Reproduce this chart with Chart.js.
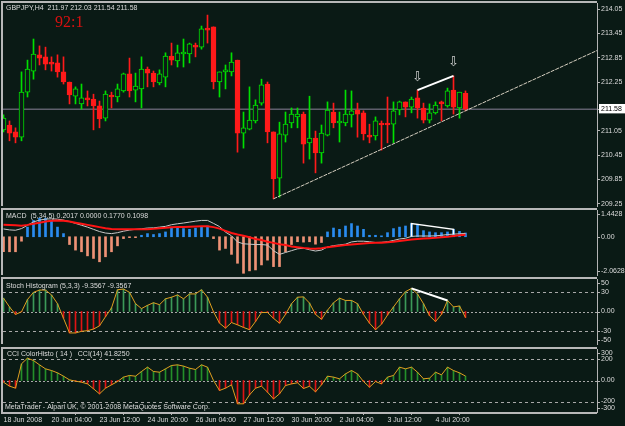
<!DOCTYPE html>
<html><head><meta charset="utf-8">
<script src="https://cdn.jsdelivr.net/npm/chart.js@4.4.1/dist/chart.umd.min.js"></script>
<style>
html,body{margin:0;padding:0;background:#0a1a15;overflow:hidden;width:625px;height:426px}
canvas{position:absolute;left:0}
</style>
</head><body>
<canvas id="cMain" width="625" height="208" style="top:0px"></canvas>
<canvas id="cMacd" width="625" height="69" style="top:208px"></canvas>
<canvas id="cStoch" width="625" height="69" style="top:277px"></canvas>
<canvas id="cCci" width="625" height="80" style="top:346px"></canvas>
<script>
// ---------- DATA ----------
const symbol = 'GBPJPY,H4';
const tickIndex  = [0, 8, 16, 24, 32, 40, 48, 56, 64, 72];
const tickLabels = ['18 Jun 2008','20 Jun 04:00','23 Jun 12:00','24 Jun 20:00','26 Jun 04:00',
                    '27 Jun 12:00','30 Jun 20:00','2 Jul 04:00','3 Jul 12:00','4 Jul 20:00'];

const open = [211.07,211.19,211.02,210.89,212.00,212.52,212.92,212.87,212.72,212.72,
              212.50,212.25,211.90,211.71,211.86,211.83,211.66,211.36,211.93,211.88,
              212.03,212.45,212.05,212.08,212.57,212.47,212.23,212.37,212.89,212.77,
              212.94,212.94,213.16,213.11,213.56,213.61,212.25,212.50,212.50,212.79,
              210.99,211.09,211.29,211.73,212.20,211.02,209.88,210.94,211.24,211.39,
              211.46,210.75,210.87,210.50,210.94,211.51,211.24,211.24,211.44,211.56,
              211.49,210.94,210.92,211.24,211.21,211.21,211.56,211.76,211.63,211.86,
              211.61,211.31,211.49,211.73,211.66,212.05,211.61,211.97];
const high = [211.44,211.29,211.12,212.50,212.79,213.31,213.14,213.11,212.87,212.92,
              212.87,212.25,212.13,212.20,212.03,211.95,211.78,212.03,212.00,212.20,
              212.47,212.84,212.47,212.87,212.62,212.52,212.55,212.97,213.21,213.16,
              213.31,213.21,213.21,213.63,213.90,213.61,212.50,212.67,212.97,212.79,
              211.51,212.13,211.81,212.32,212.25,211.02,211.26,211.51,211.61,211.61,
              211.51,211.90,211.04,211.19,211.76,211.73,211.51,212.05,212.03,211.73,
              211.54,211.21,211.39,211.29,211.88,211.76,211.78,211.76,211.88,212.05,
              211.73,211.71,211.76,211.78,212.10,212.40,212.00,212.03];
const low  = [211.02,210.80,210.75,210.80,211.88,212.32,212.67,212.55,212.52,212.37,
              212.20,211.71,211.71,211.58,211.66,211.07,211.12,211.29,211.61,211.76,
              212.00,211.88,211.76,211.61,212.13,212.13,212.18,212.13,212.67,212.62,
              212.62,212.72,212.87,213.06,213.21,212.08,211.88,212.08,212.40,210.52,
              210.62,211.07,211.24,211.68,210.75,209.37,209.41,210.77,211.12,211.12,
              210.25,210.35,210.01,210.25,210.92,211.12,210.77,211.17,211.14,210.89,
              210.82,210.75,210.82,210.57,210.75,210.75,211.44,211.39,211.49,211.36,
              211.24,211.24,211.46,211.29,211.63,211.46,211.36,211.54];
const close = [211.36,210.99,210.89,212.00,212.57,212.94,212.84,212.69,212.69,212.50,
              212.25,211.93,212.08,211.86,211.81,211.66,211.34,211.95,211.88,212.08,
              212.45,212.03,212.15,212.57,212.47,212.25,212.45,212.89,212.79,212.97,
              212.95,213.19,213.11,213.56,213.53,212.25,212.50,212.52,212.74,210.99,
              211.12,211.31,211.68,212.18,211.02,209.86,210.97,211.21,211.46,211.46,
              210.72,210.87,210.50,210.99,211.56,211.24,211.26,211.46,211.54,211.46,
              210.97,210.89,211.29,211.19,211.19,211.54,211.76,211.63,211.83,211.61,
              211.31,211.49,211.68,211.71,212.03,211.63,212.00,211.58];

const priceTicks = [209.25, 209.85, 210.45, 211.05, 212.25, 212.85, 213.45, 214.05];

const macdHist = [-0.81,-0.81,-0.81,-0.24,0.52,0.88,1.00,1.00,0.88,0.52,
                  0.17,-0.42,-0.72,-0.81,-1.03,-1.17,-1.35,-1.08,-0.81,-0.49,
                  -0.10,-0.05,-0.05,0.08,0.17,0.12,0.17,0.26,0.47,0.47,
                  0.44,0.40,0.47,0.52,0.58,-0.10,-0.72,-0.63,-0.95,-1.43,
                  -1.97,-1.84,-1.79,-1.52,-1.26,-1.61,-1.61,-0.81,-0.42,-0.27,
                  -0.29,-0.27,-0.40,-0.31,0.26,0.47,0.40,0.58,0.71,0.58,
                  0.40,0.08,0.08,0.05,0.22,0.44,0.52,0.58,0.71,0.65,
                  0.33,0.26,0.22,0.22,0.26,0.40,0.29,0.2017];
const macdMain = [0.42,0.37,0.35,0.44,0.62,0.80,0.90,0.95,0.97,0.95,
                  0.90,0.82,0.72,0.62,0.52,0.40,0.28,0.20,0.17,0.22,
                  0.30,0.36,0.40,0.43,0.47,0.48,0.52,0.56,0.65,0.70,
                  0.74,0.79,0.84,0.88,0.88,0.72,0.55,0.25,0.05,-0.28,
                  -0.38,-0.40,-0.42,-0.42,-0.45,-0.75,-0.95,-0.85,-0.75,-0.65,
                  -0.62,-0.70,-0.77,-0.72,-0.55,-0.48,-0.44,-0.40,-0.28,-0.24,
                  -0.24,-0.27,-0.31,-0.30,-0.27,-0.20,-0.12,-0.08,0.02,0.04,
                  0.04,0.04,0.05,0.08,0.12,0.14,0.16,0.1770];
const macdSignal = [0.65,0.64,0.62,0.60,0.64,0.70,0.76,0.82,0.86,0.88,
                  0.86,0.82,0.76,0.70,0.64,0.58,0.52,0.46,0.42,0.40,
                  0.40,0.40,0.40,0.40,0.41,0.43,0.46,0.48,0.51,0.52,
                  0.53,0.54,0.55,0.56,0.57,0.52,0.44,0.32,0.20,0.12,
                  0.05,-0.03,-0.12,-0.18,-0.27,-0.33,-0.40,-0.45,-0.52,-0.56,
                  -0.60,-0.63,-0.65,-0.62,-0.56,-0.52,-0.48,-0.45,-0.42,-0.39,
                  -0.36,-0.34,-0.33,-0.32,-0.30,-0.27,-0.23,-0.19,-0.15,-0.12,
                  -0.10,-0.08,-0.06,-0.03,0.00,0.04,0.08,0.1098];
const macdTicks  = [1.4428, 0, -2.0628];
const macdLabels = ['1.4428', '0.00', '-2.0628'];

const stoch = [20.5,7,-4.5,-0.5,18.5,29.5,33,33,25.5,12,
               -10.5,-33,-33,-30.5,-29.5,-27,-22,-8,5.5,33.5,
               34.5,29.5,12,4.5,9.5,13.5,10.5,19.5,22,25.5,
               19.5,27,27,33.5,22,-0.5,-18,-25.5,-17,-20.5,
               -24.5,-28,-15.5,-1.5,-1.5,-10.5,-18,-4.5,12,22,
               22.5,13,-4.5,-12,2,13.5,20.5,17,17,12,
               -4.5,-18,-28,-19.5,-5.5,7,19.5,30.5,35.5,27,
               12,-6.5,-15.5,-4.5,17,7,8.5,-9.3567];
const stochTicks  = [50, 30, 0, -30, -50];
const stochLabels = ['50', '30', '0.00', '-30', '-50'];
const stochLevels = [30, 0, -30];

const cci = [-16,-54,-73,159,213,190,149,111,95,73,
             41,6,-6,-16,-32,-79,-127,-73,-41,-10,
             32,48,41,86,127,86,79,111,143,149,
             137,117,105,149,127,0,-95,-73,-41,-222,
             -222,-137,-73,-54,-111,-175,-127,-48,-32,-22,
             -76,-55,-108,-41,41,32,16,63,95,63,
             -10,-63,-10,-32,32,48,127,111,127,79,
             16,22,79,54,127,95,73,41.825];
const cciTicks  = [300, 200, 0, -200, -300];
const cciLabels = ['300', '200', '0.00', '-200', '-300'];
const cciLevels = [200, 0, -200];

// user drawings (indices of the bars they join)
const trendAnchors = [45, 77];        // support line through these lows, extended right
const divPrice = [69, 75];            // line joining these highs
const divMacd  = [68, 75];
const divStoch = [68, 74];
const arrowMarks = [{i: 69, p: 212.37}, {i: 75, p: 212.73}];

// ---------- STYLE ----------
const BG = '#0a1a15', AXIS = '#b4b4b4', FRAME = '#b8b8b8', TXT = '#dcdcdc', LEVEL = '#a8a8a8';
const BULL = '#00e000', BEAR = '#ff1a1a';
const FONT = 'Liberation Sans';
const X_MIN = -1/12, X_MAX = X_MIN + 99;
const N = close.length;
const lastPrice = close[N - 1];
const idx = close.map((_, i) => i);

Chart.defaults.font.family = FONT;
Chart.defaults.font.size = 7;

const panels = {
  cMain: {
    texts: [
      {t: `${symbol}  ${open[N-1].toFixed(2)} ${high[N-1].toFixed(2)} ${low[N-1].toFixed(2)} ${close[N-1].toFixed(2)}`, x: 6, y: 8, font: `7px "${FONT}"`, c: TXT},
      {t: '92:1', x: 55, y: 27, font: '16px "Liberation Serif"', c: '#d81010', base: 'alphabetic'}
    ],
    arrows: arrowMarks
  },
  cMacd: {
    ticks: macdTicks, labels: macdLabels,
    texts: [{t: `MACD  (5,34,5) ${macdHist[N-1].toFixed(4)} 0.0000 ${macdMain[N-1].toFixed(4)} ${macdSignal[N-1].toFixed(4)}`, x: 6, y: 8, font: `7px "${FONT}"`, c: TXT}]
  },
  cStoch: {
    ticks: stochTicks, labels: stochLabels, levels: stochLevels,
    texts: [{t: `Stoch Histogram (5,3,3) ${stoch[N-1].toFixed(4)} ${stoch[N-1].toFixed(4)}`, x: 6, y: 9, font: `7px "${FONT}"`, c: TXT}]
  },
  cCci: {
    ticks: cciTicks, labels: cciLabels, levels: cciLevels, bottomFrame: true,
    texts: [
      {t: `CCI ColorHisto ( 14 )   CCI(14) ${cci[N-1].toFixed(4)}`, x: 7, y: 8.5, font: `7px "${FONT}"`, c: TXT},
      {t: 'MetaTrader - Alpari UK, \u00A9 2001-2008 MetaQuotes Software Corp.', x: 5, y: 61.5, font: `7px "${FONT}"`, c: TXT}
    ]
  }
};

const mtPlugin = {
  id: 'mtPanel',
  beforeDatasetsDraw(chart) {
    const cfg = panels[chart.canvas.id]; if (!cfg || !cfg.levels) return;
    const {ctx, chartArea: a} = chart; const ys = chart.scales.y;
    ctx.save();
    ctx.strokeStyle = LEVEL; ctx.lineWidth = 1;
    cfg.levels.forEach(v => {
      const py = Math.round(ys.getPixelForValue(v)) + 0.5;
      ctx.setLineDash(v === 0 ? [2, 2] : [3, 3]);
      ctx.beginPath(); ctx.moveTo(a.left, py); ctx.lineTo(a.right, py); ctx.stroke();
    });
    ctx.restore();
  },
  afterDraw(chart) {
    const cfg = panels[chart.canvas.id]; if (!cfg) return;
    const {ctx, chartArea: a} = chart; const ys = chart.scales.y, xs = chart.scales.x;
    ctx.save();
    ctx.fillStyle = FRAME;
    ctx.fillRect(1, a.top - 2, a.right - 1, 2);
    ctx.fillRect(1, a.top - 2, 2, a.bottom - a.top + 2);
    if (cfg.bottomFrame) ctx.fillRect(1, a.bottom, a.right - 1, 2);
    if (cfg.ticks) {
      ctx.font = `7px "${FONT}"`; ctx.textAlign = 'left'; ctx.textBaseline = 'middle';
      ctx.strokeStyle = AXIS; ctx.lineWidth = 1;
      cfg.ticks.forEach((v, k) => {
        let py = ys.getPixelForValue(v);
        py = Math.min(Math.max(py, a.top + 4), a.bottom - 4);
        const ry = Math.round(py) + 0.5;
        ctx.beginPath(); ctx.moveTo(a.right, ry); ctx.lineTo(a.right + 3, ry); ctx.stroke();
        ctx.fillStyle = TXT;
        ctx.fillText(cfg.labels[k], a.right + 4, py);
      });
    }
    if (cfg.arrows) {
      ctx.font = '13px "DejaVu Sans"'; ctx.textAlign = 'center'; ctx.textBaseline = 'middle';
      ctx.fillStyle = '#d0d0d0';
      cfg.arrows.forEach(m => ctx.fillText('\u21E9', xs.getPixelForValue(m.i), ys.getPixelForValue(m.p)));
    }
    (cfg.texts || []).forEach(tx => {
      ctx.font = tx.font; ctx.fillStyle = tx.c; ctx.textAlign = 'left';
      ctx.textBaseline = tx.base || 'middle';
      ctx.fillText(tx.t, tx.x, tx.y);
    });
    ctx.restore();
  }
};
Chart.register(mtPlugin);

function xHidden() {
  return {type: 'linear', min: X_MIN, max: X_MAX, offset: false, display: false, grid: {display: false}};
}
function yScale(min, max, extra) {
  return Object.assign({
    type: 'linear', position: 'right', min, max,
    grid: {display: false}, border: {display: true, color: AXIS, width: 1},
    ticks: {display: false},
    afterFit(s) { s.width = 28; s.paddingTop = 0; s.paddingBottom = 0; }
  }, extra || {});
}
const base = {
  responsive: false, maintainAspectRatio: false, devicePixelRatio: 1, animation: false, events: [],
  plugins: {legend: {display: false}, tooltip: {enabled: false}}
};
const pts = arr => arr.map((v, i) => ({x: i, y: v}));
const line = (data, color, width, order, extra) => Object.assign({
  type: 'line', data, borderColor: color, borderWidth: width, pointRadius: 0, tension: 0, order, fill: false
}, extra || {});

// ---------- MAIN ----------
const bullish = idx.map(i => close[i] >= open[i]);
const trendSlope = (low[trendAnchors[1]] - low[trendAnchors[0]]) / (trendAnchors[1] - trendAnchors[0]);
new Chart(document.getElementById('cMain'), {
  type: 'bar',
  data: {datasets: [
    line([{x: X_MIN, y: lastPrice}, {x: X_MAX, y: lastPrice}], '#8a8298', 1, 3),
    {type: 'bar', data: idx.map(i => ({x: i, y: [low[i], high[i]]})),
     backgroundColor: idx.map(i => bullish[i] ? BULL : BEAR), barThickness: 1, grouped: false, order: 2},
    {type: 'bar', data: idx.map(i => ({x: i, y: [open[i], close[i]]})),
     backgroundColor: idx.map(i => bullish[i] ? BG : BEAR),
     borderColor: idx.map(i => bullish[i] ? BULL : BEAR),
     borderWidth: 1, borderSkipped: false, barThickness: 5, minBarLength: 2, grouped: false, order: 1},
    line([{x: trendAnchors[0], y: low[trendAnchors[0]]},
          {x: X_MAX, y: low[trendAnchors[0]] + trendSlope * (X_MAX - trendAnchors[0])}], '#d6cfc0', 1, 0, {borderDash: [4, 1]}),
    line(divPrice.map(i => ({x: i, y: high[i]})), '#ffffff', 2, 0)
  ]},
  options: Object.assign({}, base, {
    layout: {padding: {left: 3, top: 3, right: 0, bottom: 2}, autoPadding: false},
    scales: {
      x: xHidden(),
      y: yScale(209.193, 214.198, {
        grid: {display: true, drawOnChartArea: false, drawTicks: true, tickLength: 3, color: AXIS},
        afterBuildTicks(s) { s.ticks = priceTicks.concat([lastPrice]).sort((a, b) => a - b).map(v => ({value: v})); },
        ticks: {
          display: true, padding: 1, font: {family: FONT, size: 7},
          callback: v => Number(v).toFixed(2),
          color: c => (c.tick && c.tick.value === lastPrice) ? '#000000' : TXT,
          showLabelBackdrop: c => !!(c.tick && c.tick.value === lastPrice),
          backdropColor: '#ffffff', backdropPadding: {left: 2, right: 4, top: 1, bottom: 0}
        }
      })
    }
  })
});

// ---------- MACD ----------
new Chart(document.getElementById('cMacd'), {
  type: 'bar',
  data: {datasets: [
    {type: 'bar', data: pts(macdHist), backgroundColor: macdHist.map(v => v >= 0 ? '#2a8cf0' : '#ee9276'),
     barThickness: 2, grouped: false, order: 3},
    line(pts(macdMain), '#c8c8c8', 1, 2),
    line(pts(macdSignal), '#ff1414', 2, 1),
    line([{x: divMacd[0], y: macdMain[divMacd[0]]}, {x: divMacd[0], y: macdHist[divMacd[0]]},
          {x: divMacd[1], y: macdHist[divMacd[1]]}, {x: divMacd[1], y: macdMain[divMacd[1]]}], '#ffffff', 1.5, 0)
  ]},
  options: Object.assign({}, base, {
    layout: {padding: {left: 3, top: 2, right: 0, bottom: 2}, autoPadding: false},
    scales: {x: xHidden(), y: yScale(-2.0628, 1.4428)}
  })
});

// ---------- STOCH ----------
new Chart(document.getElementById('cStoch'), {
  type: 'bar',
  data: {datasets: [
    {type: 'bar', data: pts(stoch), backgroundColor: stoch.map(v => v >= 0 ? '#3c9a58' : '#e01414'),
     barThickness: 1, grouped: false, order: 2},
    line(pts(stoch), '#e0a020', 1, 1),
    line(divStoch.map(i => ({x: i, y: stoch[i]})), '#ffffff', 2, 0)
  ]},
  options: Object.assign({}, base, {
    layout: {padding: {left: 3, top: 2, right: 0, bottom: 2}, autoPadding: false},
    scales: {x: xHidden(), y: yScale(-50, 50)}
  })
});

// ---------- CCI ----------
new Chart(document.getElementById('cCci'), {
  type: 'bar',
  data: {datasets: [
    {type: 'bar', data: pts(cci), backgroundColor: cci.map(v => v >= 0 ? '#24902a' : '#e01414'),
     barThickness: 1, grouped: false, order: 2},
    line(pts(cci), '#e0a020', 1, 1)
  ]},
  options: Object.assign({}, base, {
    layout: {padding: {left: 3, top: 3, right: 0, bottom: 0}, autoPadding: false},
    scales: {
      x: {
        type: 'linear', min: X_MIN, max: X_MAX, offset: false, position: 'bottom',
        grid: {display: true, drawOnChartArea: false, drawTicks: true, tickLength: 3, color: AXIS},
        border: {display: false},
        afterBuildTicks(s) { s.ticks = tickIndex.map(v => ({value: v})); },
        afterFit(s) { s.height = 14; s.paddingLeft = 0; s.paddingRight = 0; },
        ticks: {
          align: 'start', padding: 1, maxRotation: 0, autoSkip: false, color: TXT,
          font: {family: FONT, size: 7},
          callback: v => tickLabels[tickIndex.indexOf(v)]
        }
      },
      y: yScale(-300, 300)
    }
  })
});
</script>
</body></html>
